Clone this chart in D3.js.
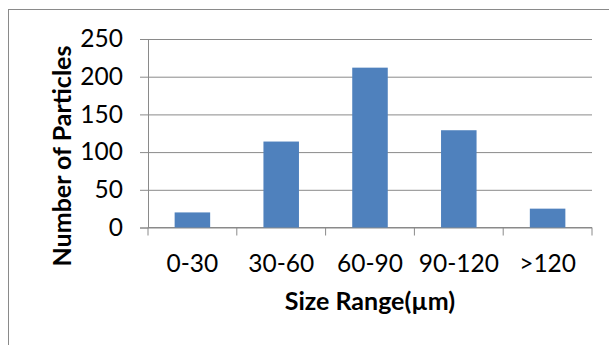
<!DOCTYPE html>
<meta charset="utf-8">
<script src="https://d3js.org/d3.v7.min.js"></script>
<style>
  body { margin: 0; background: #fff; }
  text { font-family: Lato, "Open Sans", sans-serif; fill: #000; }
</style>
<div id="my_dataviz"></div>
<script>
  // data
  var categories = ["0-30", "30-60", "60-90", "90-120", ">120"];
  var counts = [20, 114, 212, 129, 25];
  var yTicks = [0, 50, 100, 150, 200, 250];

  var margin = {top: 39, right: 17, bottom: 117.5, left: 148},
      width = 609 - margin.left - margin.right,
      height = 345 - margin.top - margin.bottom;

  var root = d3.select("#my_dataviz")
    .append("svg")
      .attr("width", 609)
      .attr("height", 345);

  // outer frame of the chart area
  root.append("rect")
    .attr("x", 8.5).attr("y", 9.5)
    .attr("width", 700).attr("height", 400)
    .attr("fill", "none")
    .attr("stroke", "#8a8a8a");

  var svg = root.append("g")
    .attr("transform", "translate(" + margin.left + "," + margin.top + ")");

  // category slots (for ticks) and bars inside them
  var xSlot = d3.scaleBand().domain(categories).range([0, width]).padding(0);
  var x = d3.scaleBand().domain(categories).range([0, width])
    .paddingInner(0.6).paddingOuter(0.3);

  var y = d3.scaleLinear().domain([0, 250]).range([height, 0]);

  // gridlines
  svg.append("g")
    .call(d3.axisLeft(y).tickValues(yTicks).tickSize(-width).tickFormat(""))
    .call(function(g) {
      g.select(".domain").remove();
      g.selectAll("line").attr("stroke", "#8a8a8a");
    });

  // Y axis
  svg.append("g")
    .call(d3.axisLeft(y).tickValues(yTicks).tickSize(8).tickPadding(17))
    .call(function(g) {
      g.select(".domain").attr("stroke", "#8a8a8a");
      g.selectAll("line").attr("stroke", "#8a8a8a");
      g.selectAll("text").style("font-size", "24.5px").attr("font-family", "Lato, sans-serif");
    });

  // X axis: boundary ticks, labels centred in slots
  var bounds = categories.map(function(c) { return xSlot(c); }).concat([width]);
  var xAxis = svg.append("g").attr("transform", "translate(0," + height + ")");
  xAxis.append("line")
    .attr("x1", 0).attr("x2", width)
    .attr("stroke", "#8a8a8a");
  xAxis.selectAll(".btick")
    .data(bounds)
    .enter().append("line")
      .attr("x1", function(d) { return d; })
      .attr("x2", function(d) { return d; })
      .attr("y1", 0).attr("y2", 8)
      .attr("stroke", "#8a8a8a");
  xAxis.selectAll(".xlabel")
    .data(categories)
    .enter().append("text")
      .attr("x", function(d) { return xSlot(d) + xSlot.bandwidth() / 2; })
      .attr("y", 44)
      .attr("text-anchor", "middle")
      .style("font-size", "24.5px")
      .text(function(d) { return d; });

  // Bars
  svg.selectAll("mybar")
    .data(counts)
    .enter()
    .append("rect")
      .attr("x", function(d, i) { return x(categories[i]); })
      .attr("y", function(d) { return y(d); })
      .attr("width", x.bandwidth())
      .attr("height", function(d) { return height - y(d); })
      .attr("fill", "#4f81bd");

  // axis titles
  svg.append("text")
    .attr("text-anchor", "middle")
    .attr("x", width / 2)
    .attr("y", height + 82)
    .style("font-size", "25px")
    .style("font-weight", "bold")
    .text("Size Range(µm)");
  svg.append("text")
    .attr("text-anchor", "middle")
    .attr("transform", "rotate(-90)")
    .attr("x", -(156 - margin.top))
    .attr("y", 71 - margin.left)
    .style("font-size", "25px")
    .style("font-weight", "bold")
    .text("Number of Particles");
</script>
